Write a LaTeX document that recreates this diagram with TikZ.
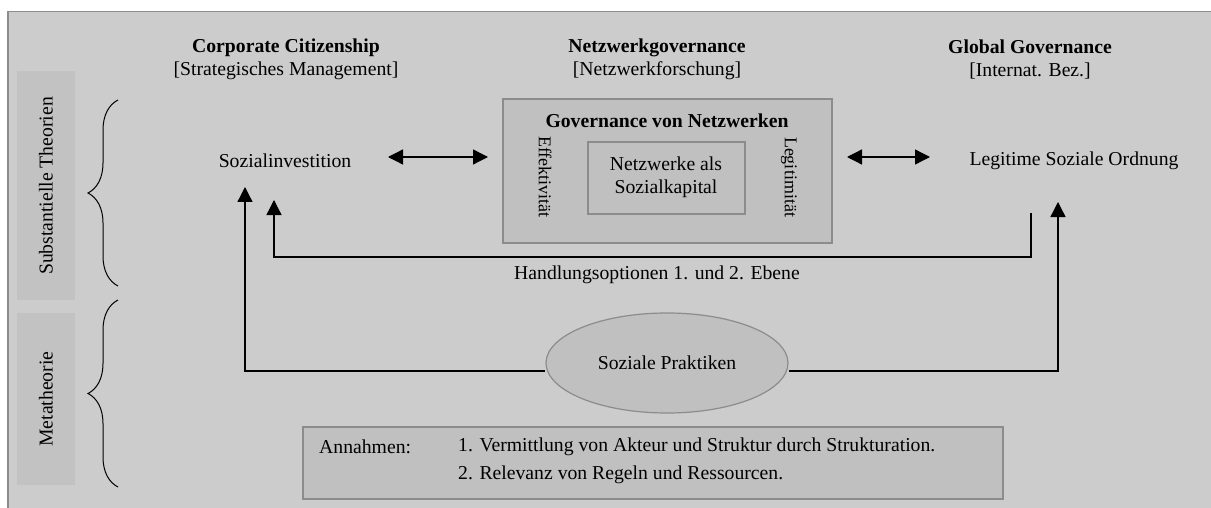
\documentclass[tikz,border=0pt]{standalone}
\usepackage{fontspec}
\setmainfont{Liberation Serif}
\usetikzlibrary{arrows.meta,shapes.geometric,decorations.pathreplacing}
\definecolor{bg}{HTML}{CCCCCC}
\definecolor{boxfill}{HTML}{C0C0C0}
\definecolor{lab}{HTML}{C2C2C2}
\definecolor{edge}{HTML}{8C8C8C}
\tikzset{
  txt/.style={font=\fontsize{19.7}{23}\selectfont, inner sep=0pt, align=center},
  small/.style={font=\fontsize{18}{21}\selectfont, inner sep=0pt},
  graybox/.style={draw=edge, line width=1.3pt, fill=boxfill},
  arr/.style={draw=black, line width=1.3pt, -{Triangle[length=15pt,width=15pt]}},
  darr/.style={draw=black, line width=1.3pt, {Triangle[length=15pt,width=15pt]}-{Triangle[length=15pt,width=15pt]}},
  bracestyle/.style={draw=black, line width=1pt, decorate, decoration={brace, amplitude=30pt}},
}
\begin{document}
\begin{tikzpicture}[x=1pt,y=-1pt]
\useasboundingbox (0,0) rectangle (1211,508);
\fill[white] (0,0) rectangle (1211,508);
% outer frame
\draw[draw=edge, line width=1.5pt, fill=bg] (8,11.5) rectangle (1230,530);
% left label boxes
\fill[lab] (17,71) rectangle (75,300);
\fill[lab] (17,313) rectangle (75,485);
\node[txt, rotate=90] (subst) at (46,186) {Substantielle Theorien};
\node[txt, rotate=90] (meta) at (46,399) {Metatheorie};
% braces
\draw[bracestyle] (118,286) -- (118,100);
\draw[bracestyle] (118,487) -- (118,300);
% headings
\node[txt] (hcc) at (286,59) {\textbf{Corporate Citizenship}\\{[}Strategisches Management{]}};
\node[txt] (hng) at (657,59) {\textbf{Netzwerkgovernance}\\{[}Netzwerkforschung{]}};
\node[txt] (hgg) at (1030,59) {\textbf{Global Governance}\\{[}Internat. Bez.{]}};
% governance box
\draw[graybox] (503,99) rectangle (832,243);
\node[txt] (gvn) at (667,121) {\textbf{Governance von Netzwerken}};
\draw[graybox] (588,142) rectangle (745,214);
\node[txt] (nsk) at (666,177) {Netzwerke als\\Sozialkapital};
\node[small, rotate=-90] (eff) at (545,177) {Effektivität};
\node[small, rotate=-90] (leg) at (789,177) {Legitimität};
% side nodes
\node[txt] (soz) at (285,161) {Sozialinvestition};
\node[txt] (lso) at (1074,161) {Legitime Soziale Ordnung};
% double arrows
\coordinate (daL1) at (388,157);
\coordinate (daL2) at (488,157);
\coordinate (daR1) at (847,157);
\coordinate (daR2) at (930,157);
\draw[darr] (daL1) -- (daL2);
\draw[darr] (daR1) -- (daR2);
% Handlungsoptionen
\coordinate (hoR) at (1031,213);
\coordinate (hoB) at (1031,257);
\coordinate (hoL) at (274,200);
\draw[arr] (hoR) -- (hoB) -| (hoL);
\node[txt] (hol) at (657,275) {Handlungsoptionen 1. und 2. Ebene};
% Soziale Praktiken
\node[ellipse, draw=edge, line width=1.2pt, fill=boxfill, minimum width=242pt, minimum height=100pt, inner sep=0pt, font=\fontsize{19.7}{23}\selectfont] (sp) at (667,363) {Soziale Praktiken};
\coordinate (spy) at (0,371);
\coordinate (tipL) at (245,187);
\coordinate (tipR) at (1058,202);
\draw[arr] (sp.west |- spy) -| (tipL);
\draw[arr] (sp.east |- spy) -| (tipR);
% Annahmen
\draw[graybox] (303,427) rectangle (1003,499);
\node[txt, anchor=west] (ann) at (319,447) {Annahmen:};
\node[txt, anchor=west] (a1) at (458,447) {1. Vermittlung von Akteur und Struktur durch Strukturation.};
\node[txt, anchor=west] (a2) at (458,475) {2. Relevanz von Regeln und Ressourcen.};
\end{tikzpicture}
\end{document}
